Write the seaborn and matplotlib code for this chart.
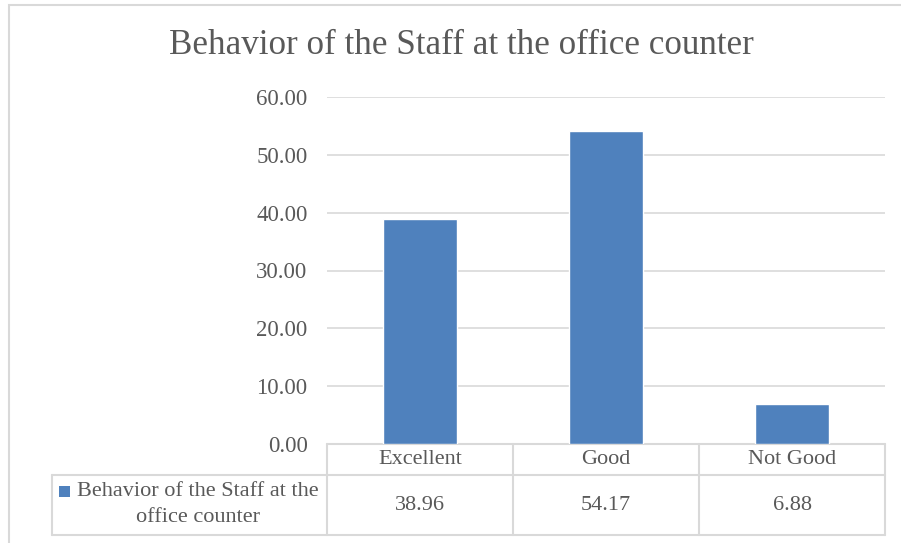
import numpy as np
import pandas as pd
import matplotlib.pyplot as plt
import matplotlib.transforms as mtransforms
from matplotlib.patches import Rectangle
import seaborn as sns

# Données
categories = ["Excellent", "Good", "Not Good"]
values = [38.96, 54.17, 6.88]
series_name = "Behavior of the Staff at the office counter"
title = "Behavior of the Staff at the office counter"
yticks = [0, 10, 20, 30, 40, 50, 60]

df = pd.DataFrame({"categorie": categories, "valeur": values})

sns.set_theme(style="white")
plt.rcParams["font.family"] = ["Liberation Serif", "DejaVu Serif"]
txt = "#595959"
grid = "#d9d9d9"
bar_color = "#4f81bd"

W, H = 901, 543
fig = plt.figure(figsize=(W / 100, H / 100), dpi=100)

# cadre du graphique (coupé à droite et en bas)
fig.patches.append(Rectangle((9 / W, -0.1), 2.0, 1 - 5 / H + 0.1, transform=fig.transFigure,
                             fill=False, edgecolor=grid, linewidth=1.5))

left, right, top, bottom = 327 / W, 885 / W, 1 - 97 / H, 1 - 444 / H
ax = fig.add_axes([left, bottom, right - left, top - bottom])

sns.barplot(data=df, x="categorie", y="valeur", color=bar_color, saturation=1,
            width=0.4, ax=ax, zorder=3)
ax.set_xlim(-0.5, 2.5)
ax.set_ylim(0, 60)
ax.set_yticks(yticks)
ax.set_yticklabels([f"{v:.2f}" for v in yticks], fontsize=16.5, color=txt)
ax.tick_params(axis="y", length=0, pad=14)
ax.set_xticks([])
ax.set_xlabel("")
ax.set_ylabel("")
for s in ax.spines.values():
    s.set_visible(False)
ax.grid(axis="y", color=grid, linewidth=1.2, zorder=0)

fig.text(0.5 * (170 + 752) / W, 1 - 46 / H, title, ha="center", va="center",
         fontsize=25.2, color=txt)

# tableau de données sous l'axe
ax_h = (444 - 97)
def yax(py):
    return (444 - py) / ax_h

trans = mtransforms.blended_transform_factory(ax.transData, ax.transAxes)
y_top, y_mid, y_bot = yax(444), yax(475), yax(535)
lw = 1.5
n = len(categories)
x_left_cell = ax.transAxes.inverted().transform(fig.transFigure.transform((52 / W, 0)))[0]

line_kw = dict(color=grid, linewidth=lw, clip_on=False)
ax.plot([-0.5, n - 0.5], [y_top, y_top], transform=trans, **line_kw)
for i in range(n + 1):
    ax.plot([i - 0.5, i - 0.5], [y_top, y_bot], transform=trans, **line_kw)
ax.plot([x_left_cell, 1], [y_mid, y_mid], transform=ax.transAxes, **line_kw)
ax.plot([x_left_cell, 1], [y_bot, y_bot], transform=ax.transAxes, **line_kw)
ax.plot([x_left_cell, x_left_cell], [y_mid, y_bot], transform=ax.transAxes, **line_kw)

for i, (c, v) in enumerate(zip(categories, values)):
    ax.text(i, yax(460), c, transform=trans, ha="center", va="center",
            fontsize=16, color=txt)
    ax.text(i, yax(505), f"{v:.2f}", transform=trans, ha="center", va="center",
            fontsize=16, color=txt)

# légende dans la cellule de gauche
fig.patches.append(Rectangle((59 / W, 1 - 497 / H), 11 / W, 11 / H, transform=fig.transFigure,
                             facecolor=bar_color, edgecolor="none"))
fig.text(198 / W, 1 - 492 / H, "Behavior of the Staff at the", ha="center", va="center",
         fontsize=16, color=txt)
fig.text(198 / W, 1 - 518 / H, "office counter", ha="center", va="center",
         fontsize=16, color=txt)

plt.savefig("out.png", dpi=100)
plt.close()
